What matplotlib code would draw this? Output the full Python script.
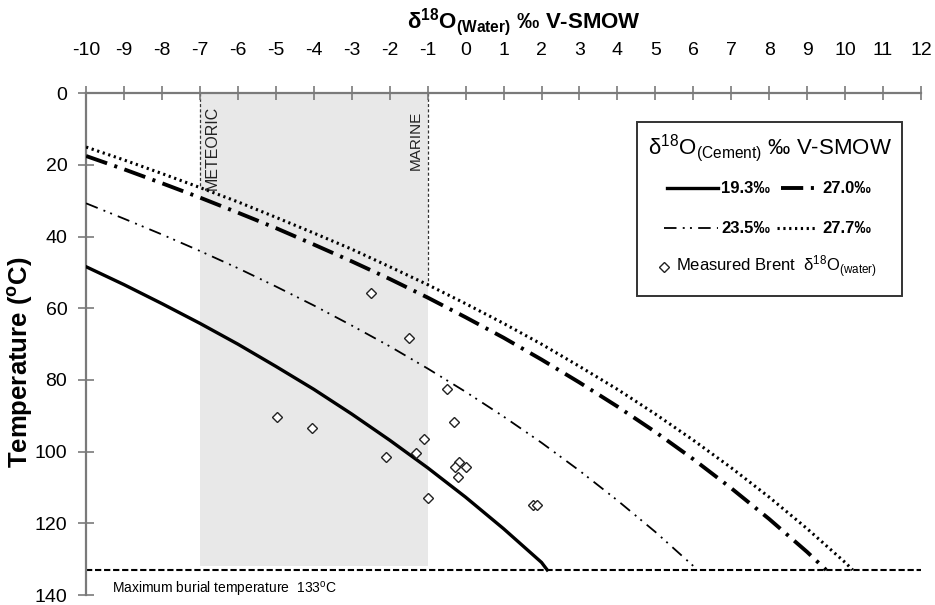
import numpy as np
import matplotlib
matplotlib.use('Agg')
import matplotlib.pyplot as plt
from matplotlib import font_manager
from matplotlib.patches import Rectangle
from matplotlib.lines import Line2D

names = {f.name for f in font_manager.fontManager.ttflist}
NARROW = 'Liberation Sans Narrow' if 'Liberation Sans Narrow' in names else 'Liberation Sans'
plt.rcParams['font.family'] = [NARROW, 'Liberation Sans', 'DejaVu Sans']
plt.rcParams['mathtext.default'] = 'regular'
plt.rcParams['lines.scale_dashes'] = False

# ---------------- data ----------------
x_ticks = list(range(-10, 13))
y_ticks = list(range(0, 141, 20))

c193_x = [-10, -9, -8, -7, -6, -5, -4, -3, -2, -1, 0, 1, 2, 2.15]
c193_t = [48.4, 53.4, 58.7, 64.2, 70.0, 76.2, 82.6, 89.5, 96.8, 104.5, 112.7, 121.5, 130.9, 133.0]

c235_x = [-10, -9, -8, -7, -6, -5, -4, -3, -2, -1, 0, 1, 2, 3, 4, 5, 6, 6.1]
c235_t = [30.7, 35.0, 39.4, 44.0, 48.8, 53.9, 59.2, 64.8, 70.6, 76.8, 83.3, 90.2, 97.5, 105.3, 113.6, 122.4, 131.9, 133.0]

c270_x = [-10, -9, -8, -7, -6, -5, -4, -3, -2, -1, 0, 1, 2, 3, 4, 5, 6, 7, 8, 9, 9.5]
c270_t = [17.5, 21.2, 25.1, 29.1, 33.3, 37.6, 42.2, 46.9, 51.8, 57.0, 62.5, 68.2, 74.3, 80.7, 87.4, 94.5, 102.1, 110.2, 118.8, 128.0, 133.0]

c277_x = [-10, -9, -8, -7, -6, -5, -4, -3, -2, -1, 0, 1, 2, 3, 4, 5, 6, 7, 8, 9, 10, 10.2]
c277_t = [15.0, 18.6, 22.4, 26.3, 30.3, 34.6, 39.0, 43.5, 48.4, 53.4, 58.7, 64.2, 70.0, 76.2, 82.6, 89.5, 96.8, 104.5, 112.7, 121.5, 130.9, 133.0]

brent_x = [-4.98, -4.06, -2.49, -2.10, -1.48, -1.31, -1.09, -0.98, -0.50, -0.31, -0.17, -0.29, 0.02, -0.21, 1.78, 1.89]
brent_t = [90.3, 93.5, 55.6, 101.5, 68.4, 100.4, 96.5, 113.0, 82.5, 91.6, 102.8, 104.2, 104.2, 107.2, 115.0, 115.0]

meteoric_x = -7
marine_x = -1
max_burial_t = 133

# ---------------- figure ----------------
fig = plt.figure(figsize=(9.35, 6.05), dpi=100)
ax = fig.add_axes([86.1 / 935, 1 - 595 / 605, 834.9 / 935, 501.7 / 605])
ax.set_xlim(-10, 12)
ax.set_ylim(140, 0)

AXC = '#7a7a7a'
for s in ['right', 'bottom']:
    ax.spines[s].set_visible(False)
for s in ['top', 'left']:
    ax.spines[s].set_color(AXC)
    ax.spines[s].set_linewidth(1.6)

ax.xaxis.tick_top()
ax.set_xticks(x_ticks)
ax.set_xticklabels([str(v) for v in x_ticks])
ax.set_yticks(y_ticks)
ax.set_yticklabels([str(v) for v in y_ticks])
ax.tick_params(axis='x', direction='inout', length=10, width=1.2, color=AXC,
               labelsize=14, pad=20)
ax.tick_params(axis='y', direction='inout', length=11, width=1.2, color=AXC,
               labelsize=14, pad=8)

# shaded meteoric-marine band
ax.fill_between([meteoric_x, marine_x], 0, max_burial_t - 1, color='#e8e8e8',
                lw=0, zorder=0)
# dashed verticals down to the 27.7 curve
for xv in (meteoric_x, marine_x):
    tv = np.interp(xv, c277_x, c277_t)
    ax.plot([xv, xv], [0, tv], color='#333333', lw=0.9,
            linestyle=(0, (2.2, 1.6)), zorder=1)

ax.text(meteoric_x + 0.12, 3.5, 'METEORIC', rotation=90, ha='left', va='top',
        fontsize=11.5, color='#222222')
ax.text(marine_x - 0.12, 4.8, 'MARINE', rotation=90, ha='right', va='top',
        fontsize=11, color='#222222')

# curves
ls193 = '-'
ls235 = (0, (9, 4.5, 1.4, 3.8, 1.4, 4.5))
ls270 = (0, (16, 5.5, 2.2, 5.5))
ls277 = (0, (1.6, 2.6))
ax.plot(c193_x, c193_t, color='black', lw=2.4, linestyle=ls193, zorder=3)
ax.plot(c235_x, c235_t, color='black', lw=1.3, linestyle=ls235, zorder=3)
ax.plot(c270_x, c270_t, color='black', lw=2.8, linestyle=ls270, zorder=3)
ax.plot(c277_x, c277_t, color='black', lw=2.2, linestyle=ls277, zorder=3)

# max burial temperature
ax.axhline(max_burial_t, color='black', lw=1.5, linestyle=(0, (4.5, 2)), zorder=2)
ax.text(-9.32, 138.6, 'Maximum burial temperature  133$^{o}$C', ha='left',
        va='center', fontsize=10)

# measured Brent waters
ax.plot(brent_x, brent_t, linestyle='none', marker='D', markersize=5.5,
        markerfacecolor='white', markeredgecolor='#222222', markeredgewidth=1.0,
        zorder=4)

# titles
fig.text(524 / 935, 1 - 22 / 605, r'δ$^{18}$O$_{(Water)}$ ‰ V-SMOW',
         ha='center', va='center', fontsize=16, fontweight='bold')
ax.set_ylabel('Temperature ($^{o}$C)', fontsize=18.5, fontweight='bold')
ax.yaxis.label.set(ha='center', va='center')
ax.yaxis.set_label_coords((21 - 86.1) / 834.9, 1 - (362 - 93.3) / 501.7)

# legend (drawn in axes fraction)
T = ax.transAxes
def fx(px):
    return (px - 86.1) / 834.9
def fy(py):
    return 1 - (py - 93.3) / 501.7

ax.add_patch(Rectangle((fx(637), fy(296)), fx(902) - fx(637), fy(122) - fy(296),
                       transform=T, facecolor='white', edgecolor='#333333',
                       lw=1.4, zorder=5))
ax.text(fx(770), fy(148), r'δ$^{18}$O$_{(Cement)}$ ‰ V-SMOW', transform=T,
        ha='center', va='center', fontsize=16, zorder=6)

entries = [
    (667, 718, 721, fy(188), ls193, 2.4, '19.3‰'),
    (781, 814, 822, fy(188), ls270, 2.8, '27.0‰'),
    (664, 718, 721, fy(228), ls235, 1.3, '23.5‰'),
    (777, 817, 822, fy(228), ls277, 2.2, '27.7‰'),
]
for x0, x1, xt, yy, ls, lw, lab in entries:
    ax.add_line(Line2D([fx(x0), fx(x1)], [yy, yy], transform=T, color='black',
                       lw=lw, linestyle=ls, zorder=6))
    ax.text(fx(xt), yy, lab, transform=T, ha='left', va='center', fontsize=12,
            fontweight='bold', zorder=6)

ax.add_line(Line2D([fx(664)], [fy(267)], transform=T, linestyle='none', marker='D',
                   markersize=5.5, markerfacecolor='white', markeredgecolor='#222222',
                   markeredgewidth=1.0, zorder=6))
ax.text(fx(676), fy(267), r'Measured Brent  δ$^{18}$O$_{(water)}$', transform=T,
        ha='left', va='center', fontsize=12, zorder=6)

fig.savefig('out.png', dpi=100)
